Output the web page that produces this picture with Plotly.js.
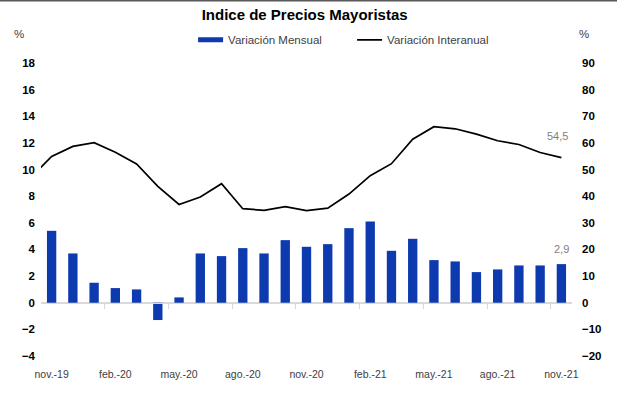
<!DOCTYPE html>
<html>
<head>
<meta charset="utf-8">
<script src="https://cdn.plot.ly/plotly-3.0.1.min.js"></script>
<style>
  html, body { margin: 0; padding: 0; background: #ffffff; }
  #chart { width: 617px; height: 399px; }
</style>
</head>
<body>
<div id="chart"></div>
<script>
// ---- Data ----
const months = ["nov.-19","dic.-19","ene.-20","feb.-20","mar.-20","abr.-20","may.-20","jun.-20","jul.-20","ago.-20","sep.-20","oct.-20","nov.-20","dic.-20","ene.-21","feb.-21","mar.-21","abr.-21","may.-21","jun.-21","jul.-21","ago.-21","sep.-21","oct.-21","nov.-21"];
const monthly = [5.4, 3.7, 1.5, 1.1, 1.0, -1.3, 0.4, 3.7, 3.5, 4.1, 3.7, 4.7, 4.2, 4.4, 5.6, 6.1, 3.9, 4.8, 3.2, 3.1, 2.3, 2.5, 2.8, 2.8, 2.9];
// the year-on-year line begins one month earlier (clipped at the plot edge)
const lineMonths = ["oct.-19"].concat(months);
const yearly = [46.8, 54.9, 58.7, 60.1, 56.5, 52.1, 43.7, 36.9, 39.7, 44.7, 35.3, 34.7, 36.1, 34.6, 35.5, 40.8, 47.7, 52.2, 61.4, 66.1, 65.3, 63.3, 60.8, 59.4, 56.4, 54.5];
const tickLabels = ["nov.-19","feb.-20","may.-20","ago.-20","nov.-20","feb.-21","may.-21","ago.-21","nov.-21"];
const lastMonthlyLabel = "2,9";
const lastYearlyLabel = "54,5";

// ---- Build ----
const FONT = "Liberation Sans, Arial, Helvetica, sans-serif";
const boundaryTicks = [];
for (let i = 3; i < months.length; i += 3) boundaryTicks.push(i + 0.5);

const traces = [
  {
    type: "bar",
    name: "Variación Mensual",
    x: months,
    y: monthly,
    marker: { color: "#0e3ab0" },
    xaxis: "x",
    yaxis: "y",
    hoverinfo: "x+y"
  },
  {
    type: "scatter",
    mode: "lines",
    name: "Variación Interanual",
    x: lineMonths,
    y: yearly,
    line: { color: "#000000", width: 1.7 },
    xaxis: "x",
    yaxis: "y2",
    hoverinfo: "x+y"
  },
  {
    // empty helper trace so the horizontal axis drawn at y = 0 is rendered
    type: "scatter",
    mode: "lines",
    x: [],
    y: [],
    xaxis: "x2",
    yaxis: "y",
    showlegend: false,
    hoverinfo: "skip"
  }
];

const layout = {
  width: 617,
  height: 399,
  margin: { l: 41, r: 45, t: 63, b: 43 },
  paper_bgcolor: "#ffffff",
  plot_bgcolor: "#ffffff",
  font: { family: FONT, size: 11, color: "#404040" },
  bargap: 0.56,
  showlegend: true,
  title: {
    text: "<b>Indice de Precios Mayoristas</b>",
    font: { family: FONT, size: 15, color: "#000000" },
    x: 0.4965,
    xref: "paper",
    xanchor: "center",
    y: 1 - 15 / 399,
    yref: "container",
    yanchor: "middle"
  },
  legend: {
    orientation: "h",
    x: 0.277,
    xanchor: "left",
    y: 1.079,
    yanchor: "middle",
    entrywidth: 114,
    entrywidthmode: "pixels",
    font: { family: FONT, size: 11.5, color: "#404040" },
    bgcolor: "rgba(0,0,0,0)"
  },
  xaxis: {
    type: "category",
    categoryorder: "array",
    categoryarray: lineMonths,
    range: [0.5, lineMonths.length - 0.5],
    tickmode: "array",
    tickvals: tickLabels,
    ticktext: tickLabels,
    ticks: "",
    showline: false,
    showgrid: false,
    zeroline: false,
    tickfont: { family: FONT, size: 10.5, color: "#404040" },
    ticklabelstandoff: 10,
    fixedrange: true
  },
  xaxis2: {
    type: "linear",
    overlaying: "x",
    anchor: "free",
    position: 4 / 22,
    range: [0.5, lineMonths.length - 0.5],
    tickmode: "array",
    tickvals: boundaryTicks,
    ticks: "outside",
    ticklen: 5,
    tickcolor: "#d9d9d9",
    tickwidth: 1,
    showline: true,
    linecolor: "#d9d9d9",
    linewidth: 1,
    showticklabels: false,
    showgrid: false,
    zeroline: false,
    fixedrange: true
  },
  yaxis: {
    range: [-4, 18],
    dtick: 2,
    tick0: 0,
    showgrid: false,
    zeroline: true,
    zerolinecolor: "#d9d9d9",
    zerolinewidth: 1,
    showline: false,
    ticks: "",
    tickfont: { family: FONT, size: 11.5, color: "#000000", weight: "bold" },
    ticklabelstandoff: 5,
    fixedrange: true
  },
  yaxis2: {
    overlaying: "y",
    side: "right",
    range: [-20, 90],
    dtick: 10,
    tick0: 0,
    showgrid: false,
    zeroline: false,
    showline: false,
    ticks: "",
    tickfont: { family: FONT, size: 11.5, color: "#000000", weight: "bold" },
    ticklabelstandoff: 9,
    fixedrange: true
  },
  annotations: [
    {
      text: "%", xref: "paper", yref: "paper",
      x: (18.5 - 41) / 531, y: (399 - 34 - 43) / 293,
      xanchor: "center", yanchor: "middle", showarrow: false,
      font: { family: FONT, size: 11.5, color: "#404040" }
    },
    {
      text: "%", xref: "paper", yref: "paper",
      x: (584 - 41) / 531, y: (399 - 34 - 43) / 293,
      xanchor: "center", yanchor: "middle", showarrow: false,
      font: { family: FONT, size: 11.5, color: "#404040" }
    },
    {
      text: lastMonthlyLabel, xref: "x", yref: "y",
      x: months[months.length - 1], y: monthly[monthly.length - 1],
      xanchor: "center", yanchor: "bottom", yshift: 7, showarrow: false,
      font: { family: FONT, size: 11, color: "#808080" }
    },
    {
      text: lastYearlyLabel, xref: "x", yref: "y2",
      x: lineMonths[lineMonths.length - 1], y: yearly[yearly.length - 1],
      xanchor: "center", yanchor: "middle", xshift: -4, yshift: 22, showarrow: false,
      font: { family: FONT, size: 11, color: "#808080" }
    }
  ],
  shapes: [
    {
      type: "line", xref: "paper", yref: "paper",
      x0: -41 / 531, x1: 1 + 45 / 531,
      y0: (399 - 0.8 - 43) / 293, y1: (399 - 0.8 - 43) / 293,
      line: { color: "#595959", width: 1.6 }
    }
  ]
};

function styleLegendSymbols() {
  // Excel-like legend keys: a flat wide bar key and a line key that touches its text
  const items = document.querySelectorAll("#chart .legend .traces");
  if (items.length >= 2) {
    const barPath = items[0].querySelector(".legendpoints path");
    if (barPath) barPath.setAttribute("d", "M15,2.5H-10V-2.5H15Z");
    const linePath = items[1].querySelector(".legendlines path");
    if (linePath) linePath.setAttribute("d", "M10,0h25");
  }
}

Plotly.newPlot("chart", traces, layout, { displayModeBar: false, staticPlot: true }).then(styleLegendSymbols);
</script>
</body>
</html>
